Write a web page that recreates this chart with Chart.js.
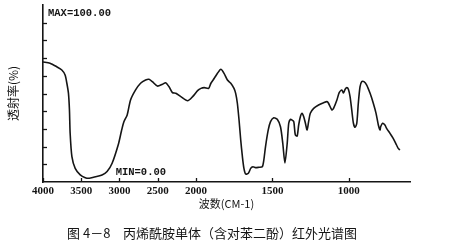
<!DOCTYPE html>
<html>
<head>
<meta charset="utf-8">
<script src="https://cdn.jsdelivr.net/npm/chart.js@4/dist/chart.umd.min.js"></script>
<style>
  html, body { margin: 0; padding: 0; background: #fff; }
  #wrap { width: 458px; height: 243px; }
</style>
</head>
<body>
<div id="wrap"><canvas id="c" width="458" height="243"></canvas></div>
<script>
// ---- data ----
const wavenumbers = [
  4000, 3908, 3820, 3754, 3711, 3688, 3667, 3654, 3645, 3622, 3579, 3513, 3447, 3395, 3338,
  3228, 3162, 3096, 3013, 2974, 2943, 2899, 2855, 2789, 2724, 2658, 2614, 2570, 2504, 2438,
  2395, 2351, 2307, 2263, 2197, 2109, 2043, 1989, 1967, 1946, 1917, 1902, 1880, 1859, 1837,
  1816, 1794, 1772, 1751, 1740, 1729, 1718, 1707, 1696, 1686, 1675, 1657, 1642, 1627, 1610,
  1588, 1566, 1556, 1545, 1527, 1512, 1491, 1468, 1447, 1432, 1418, 1403, 1393, 1382, 1371,
  1360, 1350, 1338, 1328, 1317, 1306, 1295, 1284, 1273, 1263, 1252, 1230, 1198, 1165, 1143,
  1133, 1111, 1100, 1078, 1063, 1046, 1035, 1024, 1013, 1003, 992, 981, 970, 959, 948,
  938, 927, 916, 901, 883, 861, 840, 822, 807, 796, 792, 779, 764, 753, 731,
  710, 688, 677, 666
];
const transmittance = [
  67.8, 67.1, 65.1, 63.3, 60.5, 55.8, 50.1, 40.7, 27.5, 14.3, 7.7, 4.0, 2.4, 2.1, 2.7,
  4.0, 5.9, 10.6, 21.5, 28.8, 33.9, 37.9, 46.3, 52.0, 55.8, 57.6, 58.0, 56.7, 54.2, 55.2,
  56.1, 53.8, 50.5, 50.1, 48.2, 45.9, 48.2, 51.6, 52.9, 53.3, 52.9, 55.8, 58.6, 61.4, 63.7,
  61.4, 57.6, 55.8, 52.9, 50.1, 44.5, 35.0, 23.7, 14.3, 7.7, 4.5, 4.9, 7.7, 8.6, 8.1,
  8.3, 8.6, 12.4, 19.9, 29.4, 34.1, 36.3, 35.4, 31.2, 21.9, 10.7, 21.9, 33.2, 35.4, 35.0,
  34.1, 26.6, 26.0, 32.2, 36.9, 38.8, 36.9, 33.2, 29.4, 34.1, 38.8, 41.6, 43.5, 44.8, 45.4,
  44.5, 40.7, 41.6, 46.3, 50.5, 52.0, 50.3, 52.4, 53.3, 52.4, 48.2, 40.7, 33.2, 30.9, 33.2,
  44.5, 53.8, 56.7, 56.7, 54.8, 50.1, 44.5, 38.8, 32.2, 29.4, 31.2, 33.2, 32.2, 30.3, 27.5,
  24.7, 20.9, 19.0, 18.1
];
const tickWavenumbers = [4000, 3500, 3000, 2500, 2000, 1500, 1000];
const yTickValues = [10, 20, 30, 40, 50, 60, 70, 80, 90];
const axisStart = 4000;
const axisBreak = 2000;
const axisEnd = 600;
const yTitle = '透射率(%)';
const xTitle = '波数(CM-1)';
const maxLabel = 'MAX=100.00';
const minLabel = 'MIN=0.00';
const captionLead = '图 4－8';
const captionText = '丙烯酰胺单体（含对苯二酚）红外光谱图';

// IR spectra use a doubled scale below 2000 cm-1
function toAxis(w) { return w >= axisBreak ? (axisStart - w) / 2 : (axisStart - axisBreak) / 2 + (axisBreak - w); }
function fromAxis(u) { const b = (axisStart - axisBreak) / 2; return u <= b ? axisStart - 2 * u : axisBreak - (u - b); }

const points = wavenumbers.map((w, i) => ({ x: toAxis(w), y: transmittance[i] }));

const ink = '#151515';

const decorations = {
  id: 'decorations',
  afterDraw(chart) {
    const ctx = chart.ctx;
    const xs = chart.scales.x, ys = chart.scales.y;
    const a = chart.chartArea;
    ctx.save();
    ctx.strokeStyle = ink;
    ctx.lineWidth = 1.3;
    // inward tick marks
    tickWavenumbers.forEach(w => {
      const px = Math.round(xs.getPixelForValue(toAxis(w))) + 0.5;
      ctx.beginPath(); ctx.moveTo(px, a.bottom); ctx.lineTo(px, a.bottom - 4); ctx.stroke();
    });
    yTickValues.forEach(v => {
      const py = Math.round(ys.getPixelForValue(v)) + 0.5;
      ctx.beginPath(); ctx.moveTo(a.left, py); ctx.lineTo(a.left + 4, py); ctx.stroke();
    });
    // MAX / MIN annotations
    ctx.fillStyle = ink;
    ctx.font = 'bold 10.5px "Liberation Mono", monospace';
    ctx.textBaseline = 'middle';
    ctx.textAlign = 'left';
    ctx.fillText(maxLabel, a.left + 5, ys.getPixelForValue(95));
    ctx.fillText(minLabel, xs.getPixelForValue(toAxis(3050)), ys.getPixelForValue(5.2));
    // caption
    ctx.font = '13px "Noto Sans CJK SC", sans-serif';
    ctx.fillText(captionLead, 67, 233);
    ctx.fillText(captionText, 123, 233);
    ctx.restore();
  }
};

new Chart(document.getElementById('c'), {
  type: 'line',
  data: {
    datasets: [{
      data: points,
      borderColor: ink,
      borderWidth: 1.6,
      pointRadius: 0,
      tension: 0.25,
      fill: false
    }]
  },
  options: {
    responsive: false,
    devicePixelRatio: 1,
    animation: false,
    parsing: true,
    layout: { padding: { left: 0, right: 48, top: 5, bottom: 28 } },
    plugins: { legend: { display: false }, tooltip: { enabled: false }, title: { display: false } },
    scales: {
      x: {
        type: 'linear',
        min: 0,
        max: toAxis(axisEnd),
        afterBuildTicks(scale) { scale.ticks = tickWavenumbers.map(w => ({ value: toAxis(w) })); },
        afterFit(scale) { scale.height = 33; },
        ticks: {
          autoSkip: false, maxRotation: 0, minRotation: 0, padding: 3, color: ink,
          font: { family: '"Liberation Serif", serif', size: 11, weight: 'bold' },
          callback: (v) => String(fromAxis(v))
        },
        grid: { display: true, drawOnChartArea: false, drawTicks: false },
        border: { display: true, color: ink, width: 1.6 },
        title: {
          display: true, text: xTitle, color: ink,
          font: { family: '"Noto Sans CJK SC", sans-serif', size: 11 },
          padding: { top: 0, bottom: 5 }
        }
      },
      y: {
        min: 0, max: 100,
        afterFit(scale) { scale.width = 43; },
        ticks: { display: false, stepSize: 10 },
        grid: { display: true, drawOnChartArea: false, drawTicks: false },
        border: { display: true, color: ink, width: 1.6 },
        title: {
          display: true, text: yTitle, color: ink,
          font: { family: '"Noto Sans CJK SC", sans-serif', size: 12 },
          padding: { top: 6, bottom: 0 }
        }
      }
    }
  },
  plugins: [decorations]
});
</script>
</body>
</html>
